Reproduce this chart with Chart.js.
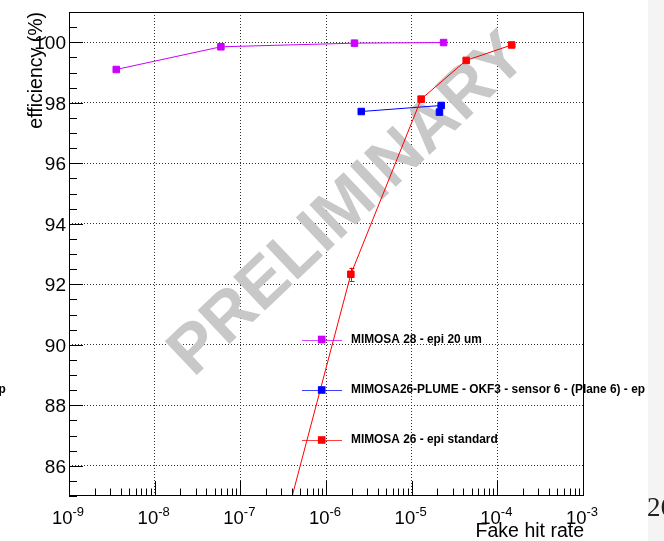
<!DOCTYPE html>
<html>
<head>
<meta charset="utf-8">
<script src="https://cdn.jsdelivr.net/npm/chart.js@4.4.1/dist/chart.umd.min.js"></script>
<style>
  html, body { margin: 0; padding: 0; background: #fff; }
  canvas { display: block; }
</style>
</head>
<body>
<canvas id="c" width="664" height="541"></canvas>
<script>
// ---- axis tick labels ----
const xDecades = [-9, -8, -7, -6, -5, -4, -3];
const yTickLabels = [86, 88, 90, 92, 94, 96, 98, 100];

// ---- series ----
const m28Label = 'MIMOSA 28 - epi 20 um';
const m28Rate = [3.56e-9, 5.93e-8, 2.15e-6, 2.36e-5];
const m28Eff = [99.10, 99.85, 99.97, 99.99];

const plumeLabel = 'MIMOSA26-PLUME - OKF3 - sensor 6 - (Plane 6) - ep';
const plumeRate = [2.58e-6, 2.21e-5, 2.11e-5];
const plumeEff = [97.71, 97.91, 97.69];

const m26Label = 'MIMOSA 26 - epi standard';
const m26Rate = [1.5e-7, 1.95e-6, 1.29e-5, 4.33e-5, 1.47e-4];
const m26Eff = [80.4, 92.33, 98.12, 99.40, 99.91];
const m26Err = [0.30, 0.22, 0.08, 0.05, 0.04];

const FONT = '"Liberation Sans", Arial, Helvetica, sans-serif';
const COL_M28 = '#cc00ff';
const COL_PLUME = '#0000ff';
const COL_M26 = '#ff0000';

function pts(xs, ys) { return xs.map((x, i) => ({ x: x, y: ys[i] })); }
function isDecade(v) { const l = Math.log10(v); return Math.abs(l - Math.round(l)) < 1e-6; }

function series(label, xs, ys, color) {
  return {
    label: label,
    data: pts(xs, ys),
    showLine: true,
    borderColor: color,
    borderWidth: 1,
    backgroundColor: color,
    pointStyle: 'rect',
    pointRadius: 4.6,
    pointBorderWidth: 1,
    pointBackgroundColor: color,
    pointBorderColor: color,
    tension: 0
  };
}

const datasets = [
  series(m26Label, m26Rate, m26Eff, COL_M26),
  series(plumeLabel, plumeRate, plumeEff, COL_PLUME),
  series(m28Label, m28Rate, m28Eff, COL_M28)
];

// legend rows drawn inside the frame, in this order
const legendOrder = [2, 1, 0];

const decorations = {
  id: 'decorations',
  beforeDraw(chart) {
    const ctx = chart.ctx;
    ctx.save();
    ctx.fillStyle = '#ffffff';
    ctx.fillRect(0, 0, chart.width, chart.height);
    ctx.fillStyle = '#f4f4f4';
    ctx.fillRect(648, 0, chart.width - 648, chart.height);
    ctx.restore();
  },
  beforeDatasetsDraw(chart) {
    // PRELIMINARY stamp across the frame
    const ctx = chart.ctx;
    const size = 67.5;
    ctx.save();
    ctx.translate(345, 201.5);
    ctx.rotate(-43.4 * Math.PI / 180);
    ctx.font = 'bold ' + size + 'px ' + FONT;
    ctx.fillStyle = 'rgb(200,200,200)';
    ctx.textAlign = 'center';
    ctx.textBaseline = 'alphabetic';
    ctx.fillText('PRELIMINARY', 0, 0.358 * size);
    ctx.restore();
  },
  afterDatasetsDraw(chart) {
    const ctx = chart.ctx;
    const xs = chart.scales.x, ys = chart.scales.y;
    const a = chart.chartArea;

    // error bars on the MIMOSA 26 points
    ctx.save();
    ctx.beginPath();
    ctx.rect(a.left, a.top, a.right - a.left, a.bottom - a.top);
    ctx.clip();
    ctx.strokeStyle = COL_M26;
    ctx.lineWidth = 1;
    m26Rate.forEach((r, i) => {
      const px = Math.round(xs.getPixelForValue(r)) + 0.5;
      const y1 = ys.getPixelForValue(m26Eff[i] + m26Err[i]);
      const y2 = ys.getPixelForValue(m26Eff[i] - m26Err[i]);
      ctx.beginPath();
      ctx.moveTo(px, y1); ctx.lineTo(px, y2);
      ctx.moveTo(px - 2, Math.round(y1) + 0.5); ctx.lineTo(px + 3, Math.round(y1) + 0.5);
      ctx.moveTo(px - 2, Math.round(y2) + 0.5); ctx.lineTo(px + 3, Math.round(y2) + 0.5);
      ctx.stroke();
    });
    ctx.restore();

    // frame
    ctx.save();
    ctx.strokeStyle = '#000';
    ctx.lineWidth = 1;
    ctx.strokeRect(a.left + 0.5, a.top + 0.5, a.right - a.left, a.bottom - a.top - 1);

    // inward tick marks
    ctx.beginPath();
    ys.ticks.forEach(t => {
      const py = Math.round(ys.getPixelForValue(t.value)) + 0.5;
      const len = (t.value % 2 === 0) ? 14 : 8;
      ctx.moveTo(a.left, py); ctx.lineTo(a.left + len, py);
    });
    xs.ticks.forEach(t => {
      const px = Math.round(xs.getPixelForValue(t.value)) + 0.5;
      const len = isDecade(t.value) ? 15 : 7.5;
      ctx.moveTo(px, a.bottom); ctx.lineTo(px, a.bottom - len);
    });
    ctx.stroke();

    // y tick labels
    ctx.fillStyle = '#000';
    ctx.font = '19px ' + FONT;
    ctx.textAlign = 'right';
    ctx.textBaseline = 'alphabetic';
    yTickLabels.forEach(v => {
      const py = ys.getPixelForValue(v);
      ctx.fillText(String(v), 66, py + 0.358 * 19);
    });

    // x tick labels 10^n
    xDecades.forEach(d => {
      const px = xs.getPixelForValue(Math.pow(10, d));
      ctx.font = '18.5px ' + FONT;
      const wBase = ctx.measureText('10').width;
      ctx.font = '13px ' + FONT;
      const sup = String(d);
      const wSup = ctx.measureText(sup).width;
      const x0 = px - (wBase + wSup) / 2 - 1;
      ctx.textAlign = 'left';
      ctx.font = '18.5px ' + FONT;
      ctx.fillText('10', x0, 523.5);
      ctx.font = '13px ' + FONT;
      ctx.fillText(sup, x0 + wBase, 516);
    });

    // axis titles
    ctx.font = '19.5px ' + FONT;
    ctx.textAlign = 'right';
    ctx.fillText('Fake hit rate', 584, 537);
    ctx.save();
    ctx.translate(42, 12);
    ctx.rotate(-Math.PI / 2);
    ctx.textAlign = 'right';
    ctx.fillText('efficiency (%)', 0, 0);
    ctx.restore();

    // legend
    const rowsY = [339.5, 390, 440];
    legendOrder.forEach((di, k) => {
      const ds = chart.data.datasets[di];
      const y = rowsY[k];
      ctx.strokeStyle = ds.borderColor;
      ctx.globalAlpha = 0.75;
      ctx.beginPath();
      ctx.moveTo(302, Math.round(y) + 0.5); ctx.lineTo(342, Math.round(y) + 0.5);
      ctx.stroke();
      ctx.globalAlpha = 1;
      ctx.fillStyle = ds.borderColor;
      ctx.fillRect(321.7 - 3.8, y - 3.8, 7.6, 7.6);
      ctx.fillStyle = '#000';
      ctx.font = 'bold 11.9px ' + FONT;
      ctx.textAlign = 'left';
      ctx.textBaseline = 'middle';
      ctx.fillText(ds.label, 351, y);
    });
    ctx.textBaseline = 'alphabetic';

    // stray glyphs at the page edges
    ctx.fillStyle = '#000';
    ctx.font = 'bold 11.9px ' + FONT;
    ctx.textBaseline = 'middle';
    ctx.textAlign = 'left';
    ctx.fillText('p', -1.5, 390);
    ctx.textBaseline = 'alphabetic';
    ctx.fillStyle = '#222';
    ctx.font = '27px "Liberation Serif", "Times New Roman", serif';
    ctx.fillText('26', 647, 516);
    ctx.restore();
  }
};

new Chart(document.getElementById('c'), {
  type: 'scatter',
  data: { datasets: datasets },
  options: {
    responsive: false,
    animation: false,
    events: [],
    layout: { padding: { left: 69, right: 81, top: 12, bottom: 45 } },
    plugins: { legend: { display: false }, tooltip: { enabled: false }, title: { display: false } },
    scales: {
      x: {
        type: 'logarithmic',
        min: 1e-9,
        max: 1e-3,
        afterBuildTicks(scale) {
          const t = [];
          xDecades.forEach((d, i) => {
            for (let m = 1; m <= 9; m++) {
              if (i === xDecades.length - 1 && m > 1) break;
              t.push({ value: m * Math.pow(10, d) });
            }
          });
          scale.ticks = t;
        },
        afterFit(scale) { scale.height = 0; },
        ticks: { display: false },
        border: { display: false, dash: [1, 2] },
        grid: {
          drawTicks: false,
          lineWidth: 1,
          borderDash: [1, 2],
          color: (c) => (c.tick && isDecade(c.tick.value)) ? '#333' : 'rgba(0,0,0,0)'
        }
      },
      y: {
        type: 'linear',
        min: 85,
        max: 101,
        afterBuildTicks(scale) {
          const t = [];
          for (let v = 85; v <= 101; v += 0.5) t.push({ value: v });
          scale.ticks = t;
        },
        afterFit(scale) { scale.width = 0; },
        ticks: { display: false },
        border: { display: false, dash: [1, 2] },
        grid: {
          drawTicks: false,
          lineWidth: 1,
          borderDash: [1, 2],
          color: (c) => (c.tick && yTickLabels.indexOf(c.tick.value) >= 0) ? '#333' : 'rgba(0,0,0,0)'
        }
      }
    }
  },
  plugins: [decorations]
});
</script>
</body>
</html>
